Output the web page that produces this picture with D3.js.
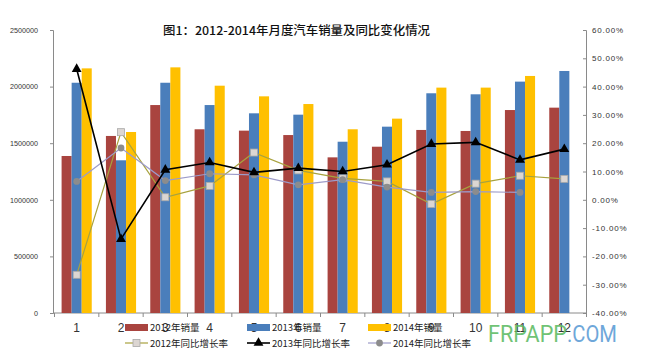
<!DOCTYPE html>
<html><head><meta charset="utf-8">
<script src="https://cdn.jsdelivr.net/npm/d3@7"></script>
<style>body{margin:0;background:#fff}svg{display:block}</style>
</head><body>
<svg id="c" width="646" height="357"></svg>
<script>
const months = [1,2,3,4,5,6,7,8,9,10,11,12];
const sales2012 = [1387000,1564000,1837000,1623000,1611000,1572000,1375000,1469000,1617000,1608000,1793000,1814000];
const sales2013 = [2034000,1349000,2034000,1837000,1764000,1752000,1513000,1646000,1941000,1932000,2044000,2138000];
const sales2014 = [2161000,1599000,2170000,2008000,1914000,1846000,1623000,1717000,1991000,1991000,2094000,null];
const growth2012 = [-26.5,23.9,0.9,4.9,16.7,10.4,7.6,6.5,-1.5,5.7,8.5,7.4];
const growth2013 = [46.2,-13.9,10.6,13.2,9.7,11.2,10.0,12.4,19.7,20.3,14.1,17.9];
const growth2014 = [6.5,18.3,6.8,9.2,8.8,5.3,7.1,4.5,2.6,2.9,2.6,null];
const leftTicks = [0,500000,1000000,1500000,2000000,2500000];
const rightTicks = [-40,-30,-20,-10,0,10,20,30,40,50,60];
const barNames = ["2012年销量","2013年销量","2014年销量"];
const lineNames = ["2012年同比增长率","2013年同比增长率","2014年同比增长率"];
const titleText = "图1：2012-2014年月度汽车销量及同比变化情况";

const svg = d3.select("#c");
const L = 54.5, R = 586.5, T = 30, B = 313;
const barColors = ["#A9443F","#4A7EBB","#FFC000"];

const x0 = d3.scaleBand().domain(months).range([L,R]).paddingInner(0.32).paddingOuter(0.16);
const xb = d3.scaleBand().domain([0,1,2]).range([0,x0.bandwidth()]);
const xc = m => x0(m) + x0.bandwidth()/2;
const yL = d3.scaleLinear().domain([0,2500000]).range([B,T]);
const yR = d3.scaleLinear().domain([-40,60]).range([B,T]);

// title
svg.append("text").attr("x",163).attr("y",35).attr("textLength",267).attr("lengthAdjust","spacingAndGlyphs")
  .attr("font-family","'Noto Sans CJK SC'").attr("font-size",12).attr("font-weight",500).attr("fill","#111").text(titleText);

// left axis
const gL = svg.append("g").attr("transform",`translate(53,0)`)
  .call(d3.axisLeft(yL).tickValues(leftTicks).tickSize(3).tickFormat(d3.format("d")));
gL.selectAll("path,line").attr("stroke","#8a8a8a");
gL.selectAll("text").attr("font-family","'Liberation Sans'").attr("font-size",7.2).attr("fill","#333").attr("x",-15);

// right axis
const gR = svg.append("g").attr("transform",`translate(586,0)`)
  .call(d3.axisRight(yR).tickValues(rightTicks).tickSize(-3).tickFormat(d => d.toFixed(2)+"%"));
gR.selectAll("path,line").attr("stroke","#8a8a8a");
gR.selectAll("text").attr("font-family","'Liberation Sans'").attr("font-size",8).attr("fill","#333")
  .attr("x",6).attr("letter-spacing",0.8);

// x axis line + boundary ticks
const gX = svg.append("g");
gX.append("line").attr("x1",53).attr("x2",586).attr("y1",B).attr("y2",B).attr("stroke","#8a8a8a");
gX.selectAll("line.t").data(months.concat([13])).join("line").attr("class","t")
  .attr("x1",(d,i)=> i<12 ? x0(d)-x0.step()*x0.paddingInner()/2 : R)
  .attr("x2",(d,i)=> i<12 ? x0(d)-x0.step()*x0.paddingInner()/2 : R)
  .attr("y1",B).attr("y2",B+4).attr("stroke","#8a8a8a");

// bars
const barSeries = [sales2012,sales2013,sales2014];
barSeries.forEach((vals,si)=>{
  svg.append("g").selectAll("rect").data(months.map((m,i)=>({m,v:vals[i]})).filter(d=>d.v!=null))
    .join("rect")
    .attr("x",d=>x0(d.m)+xb(si)).attr("width",xb.bandwidth())
    .attr("y",d=>yL(d.v)).attr("height",d=>B-yL(d.v)).attr("fill",barColors[si]);
});

// lines
const lineSeries = [
  {vals:growth2012, color:"#A8A23E", w:1.2, marker:"square"},
  {vals:growth2013, color:"#000000", w:1.6, marker:"triangle"},
  {vals:growth2014, color:"#9D9BC9", w:1.2, marker:"circle"}
];
function drawMarker(g, type, cx, cy){
  if(type==="square") g.append("rect").attr("x",cx-3.5).attr("y",cy-3.5).attr("width",7).attr("height",7)
    .attr("fill","#DCD6D2").attr("stroke","#A8A8A8").attr("stroke-width",0.8);
  else if(type==="triangle") g.append("path").attr("d",d3.symbol(d3.symbolTriangle,42)()).attr("transform",`translate(${cx},${cy})`).attr("fill","#000");
  else g.append("circle").attr("cx",cx).attr("cy",cy).attr("r",3.4).attr("fill","#8C8C8C");
}
[0,2,1].forEach(k=>{
  const s = lineSeries[k];
  const pts = months.map((m,i)=>({m,v:s.vals[i]})).filter(d=>d.v!=null);
  const g = svg.append("g");
  g.append("path").datum(pts).attr("fill","none").attr("stroke",s.color).attr("stroke-width",s.w)
    .attr("d",d3.line().x(d=>xc(d.m)).y(d=>yR(d.v)));
  pts.forEach(d=>drawMarker(g,s.marker,xc(d.m),yR(d.v)));
});

// x labels
svg.append("g").selectAll("text").data(months).join("text")
  .attr("x",d=>xc(d)).attr("y",332).attr("text-anchor","middle")
  .attr("font-family","'Liberation Sans'").attr("font-size",12).attr("fill","#333").text(d=>d);

// legend
const legX = [125,247,368];
const lg = svg.append("g");
barNames.forEach((n,i)=>{
  lg.append("rect").attr("x",legX[i]).attr("y",324).attr("width",23).attr("height",7).attr("fill",barColors[i]);
  lg.append("text").attr("x",legX[i]+25).attr("y",331).attr("font-family","'Noto Sans CJK SC'")
    .attr("font-size",9.5).attr("fill","#222").text(n);
});
lineNames.forEach((n,i)=>{
  const s = lineSeries[i];
  lg.append("line").attr("x1",legX[i]).attr("x2",legX[i]+23).attr("y1",343).attr("y2",343)
    .attr("stroke",s.color).attr("stroke-width",s.w);
  drawMarker(lg,s.marker,legX[i]+11.5,343);
  lg.append("text").attr("x",legX[i]+25).attr("y",347).attr("font-family","'Noto Sans CJK SC'")
    .attr("font-size",9.5).attr("fill","#222").text(n);
});

// watermark
svg.append("text").attr("x",488).attr("y",342).attr("font-family","'Roboto'").attr("font-size",23)
  .attr("opacity",0.88).attr("fill","#5DBB63").attr("textLength",79).attr("lengthAdjust","spacingAndGlyphs").text("FRPAPP");
svg.append("text").attr("x",567).attr("y",342).attr("font-family","'Roboto'").attr("font-size",23)
  .attr("opacity",0.88).attr("fill","#5B9BD5").attr("textLength",50).attr("lengthAdjust","spacingAndGlyphs").text(".COM");
</script>
</body></html>
